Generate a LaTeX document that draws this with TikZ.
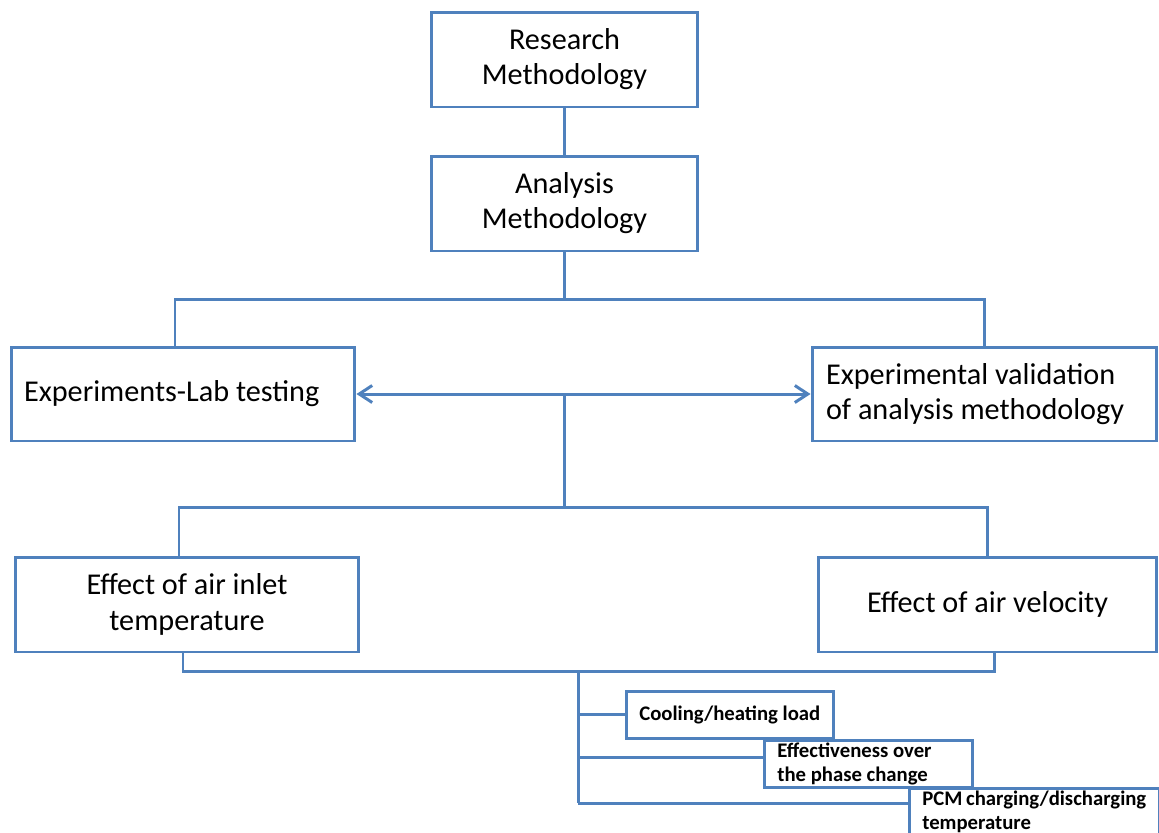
\documentclass[tikz,border=0pt]{standalone}
\usepackage{fontspec}
\setmainfont{Carlito}
\usetikzlibrary{arrows.meta}
\definecolor{boxblue}{HTML}{4F81BD}
\begin{document}
\begin{tikzpicture}[x=0.02cm, y=-0.02cm,
	link/.style={draw=boxblue, line width=1.7pt},
	box/.style={draw=boxblue, line width=1.7pt, fill=white, inner sep=0pt, align=center,
		font=\fontsize{17.2}{20}\selectfont},
	smallbox/.style={draw=boxblue, line width=1.5pt, fill=white, anchor=north west,
		inner xsep=0.26cm, inner ysep=0pt, minimum height=0.94cm, align=left,
		font=\fontsize{11.8}{13.6}\selectfont\bfseries},
	every node/.append style={execute at begin node={\spaceskip=0pt\xspaceskip=0pt}}]
	\useasboundingbox (0,0) rectangle (1159,832);
	\clip (0,0) rectangle (1159,832);
	% Top boxes
	\node[box, minimum width=5.34cm, minimum height=1.9cm] (res) at (564.5,59.5) {Research\\Methodology};
	\node[box, minimum width=5.34cm, minimum height=1.9cm] (ana) at (564.5,203.5) {Analysis\\Methodology};
	% Second level
	\node[box, text width=6.36cm, inner xsep=0.26cm, minimum height=1.88cm, align=left] (lab) at (183,394) {Experiments-Lab testing};
	\node[box, text width=6.34cm, inner xsep=0.28cm, minimum height=1.88cm, align=left] (val) at (984.5,394) {Experimental validation\\of analysis methodology};
	% Third level
	\node[box, minimum width=6.88cm, minimum height=1.9cm] (inl) at (187,604.5) {Effect of air inlet\\temperature};
	\node[box, minimum width=6.78cm, minimum height=1.9cm] (vel) at (987.5,604.5) {Effect of air velocity};
	% Outputs
	\node[smallbox, text width=3.62cm] (cool) at (625,690) {Cooling/heating load};
	\node[smallbox, text width=3.64cm] (eff) at (763,739) {Effectiveness over\\the phase change};
	\node[smallbox, text width=4.48cm] (pcm) at (908,787) {PCM charging/discharging\\temperature};
	% Connectors
	\draw[link] (res) -- (ana);
	\draw[link] (ana.south) -- ++(0,47) coordinate (j1);
	\draw[link] ([xshift=-0.16cm]lab.north) |- (j1) -| (val.north);
	\draw[link, {Straight Barb[length=0.26cm,width=0.34cm]}-{Straight Barb[length=0.26cm,width=0.34cm]}] (lab.east) -- (val.west);
	\draw[link] (ana.south |- lab.east) -- ++(0,113) coordinate (j2);
	\draw[link] ([xshift=-0.16cm]inl.north) |- (j2) -| (vel.north);
	\draw[link] ([xshift=-0.08cm]inl.south) -- ++(0,18) coordinate (j3) -| ([xshift=0.13cm]vel.south);
	\path (578,670) coordinate (stem);
	\draw[link] (stem) -- (stem |- 0,803);
	\draw[link] (stem |- cool.west) -- (cool.west);
	\draw[link] (stem |- 0,757) -- (eff.west |- 0,757);
	\draw[link] (stem |- 0,803) -- (pcm.west |- 0,803);
\end{tikzpicture}
\end{document}
